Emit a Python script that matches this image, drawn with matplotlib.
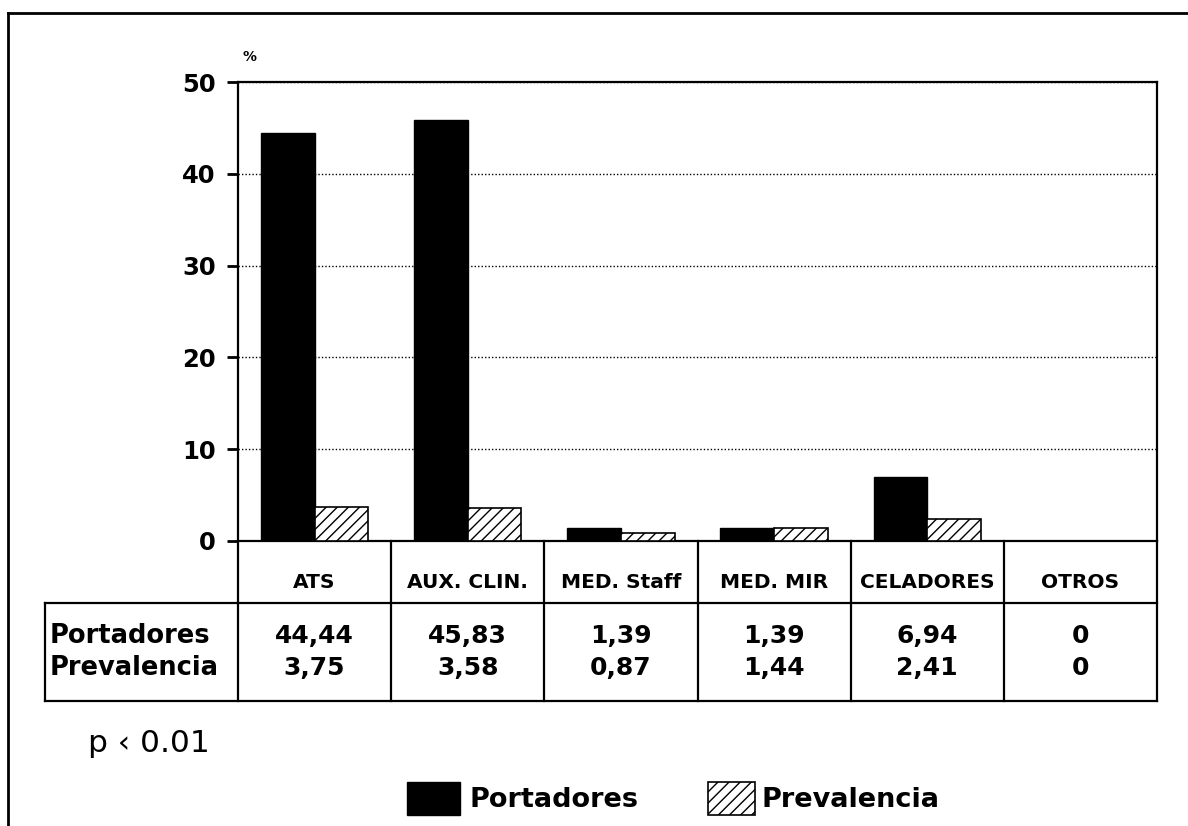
import numpy as np
import matplotlib
matplotlib.use("Agg")
import matplotlib.pyplot as plt
from matplotlib.transforms import blended_transform_factory
from matplotlib.patches import Rectangle

plt.rcParams['font.family'] = ['DejaVu Sans']
plt.rcParams['hatch.linewidth'] = 1.0

categorias = ["ATS", "AUX. CLIN.", "MED. Staff", "MED. MIR", "CELADORES", "OTROS"]
portadores = [44.44, 45.83, 1.39, 1.39, 6.94, 0]
prevalencia = [3.75, 3.58, 0.87, 1.44, 2.41, 0]
portadores_txt = ["44,44", "45,83", "1,39", "1,39", "6,94", "0"]
prevalencia_txt = ["3,75", "3,58", "0,87", "1,44", "2,41", "0"]
series = ["Portadores", "Prevalencia"]
yticks = [0, 10, 20, 30, 40, 50]

W, H = 1188, 826
fig = plt.figure(figsize=(W / 100, H / 100), dpi=100)

def fx(px):
    return px / W

def fy(py):
    return 1 - py / H

ax = fig.add_axes([fx(238), fy(541), fx(1157) - fx(238), fy(82) - fy(541)])

x = np.arange(len(categorias))
bw = 0.35
ax.bar(x - bw / 2, portadores, bw, color="black", edgecolor="black", zorder=3)
ax.bar(x + bw / 2, prevalencia, bw, color="white", edgecolor="black",
       hatch="///", linewidth=1.2, zorder=3)

ax.set_xlim(-0.5, len(categorias) - 0.5)
ax.set_ylim(0, 50)
ax.set_yticks(yticks)
ax.set_yticklabels([str(t) for t in yticks], fontsize=17.5, fontweight="bold")
ax.set_xticks([])
ax.tick_params(axis="y", direction="out", length=8, width=2, pad=8)
for s in ax.spines.values():
    s.set_linewidth(1.6)
ax.yaxis.grid(True, linestyle=(0, (1, 1.5)), color="black", linewidth=1.0, zorder=0)
ax.set_axisbelow(True)
ax.text(0.005, 1.04, "%", transform=ax.transAxes, fontsize=10, fontweight="heavy",
        ha="left", va="bottom")

# table under the chart
tr = blended_transform_factory(ax.transData, fig.transFigure)
lw = 1.6
bounds = np.arange(len(categorias) + 1) - 0.5
for b in bounds:
    ax.plot([b, b], [fy(541), fy(701)], color="black", lw=lw, transform=tr, clip_on=False)
for yy in [fy(603), fy(701)]:
    fig.add_artist(plt.Line2D([fx(45), fx(1157)], [yy, yy], color="black", lw=lw))
fig.add_artist(plt.Line2D([fx(45), fx(45)], [fy(603), fy(701)], color="black", lw=lw))

for i, c in enumerate(categorias):
    ax.text(i, fy(583), c, transform=tr, ha="center", va="center",
            fontsize=14.5, fontweight="bold")
    ax.text(i, fy(636), portadores_txt[i], transform=tr, ha="center", va="center",
            fontsize=18, fontweight="bold")
    ax.text(i, fy(668), prevalencia_txt[i], transform=tr, ha="center", va="center",
            fontsize=18, fontweight="bold")
fig.text(fx(50), fy(636), series[0], ha="left", va="center", fontsize=18.5, fontweight="bold")
fig.text(fx(50), fy(668), series[1], ha="left", va="center", fontsize=18.5, fontweight="bold")

# p value
fig.text(fx(88), fy(743), "p \u2039 0.01", ha="left", va="center", fontsize=22.5)

# legend
fig.add_artist(Rectangle((fx(407), fy(815)), fx(460) - fx(407), fy(782) - fy(815),
                         facecolor="black", edgecolor="black", transform=fig.transFigure))
fig.text(fx(470), fy(800), series[0], ha="left", va="center", fontsize=19.5, fontweight="bold")
fig.add_artist(Rectangle((fx(708), fy(815)), fx(755) - fx(708), fy(782) - fy(815),
                         facecolor="white", edgecolor="black", hatch="///", lw=1.2,
                         transform=fig.transFigure))
fig.text(fx(762), fy(800), series[1], ha="left", va="center", fontsize=19.5, fontweight="bold")

# outer frame (top and left)
fig.add_artist(plt.Line2D([fx(8), 1.0], [fy(13), fy(13)], color="black", lw=2))
fig.add_artist(plt.Line2D([fx(8), fx(8)], [fy(13), 0.0], color="black", lw=2))

fig.savefig("out.png", dpi=100, facecolor="white")
